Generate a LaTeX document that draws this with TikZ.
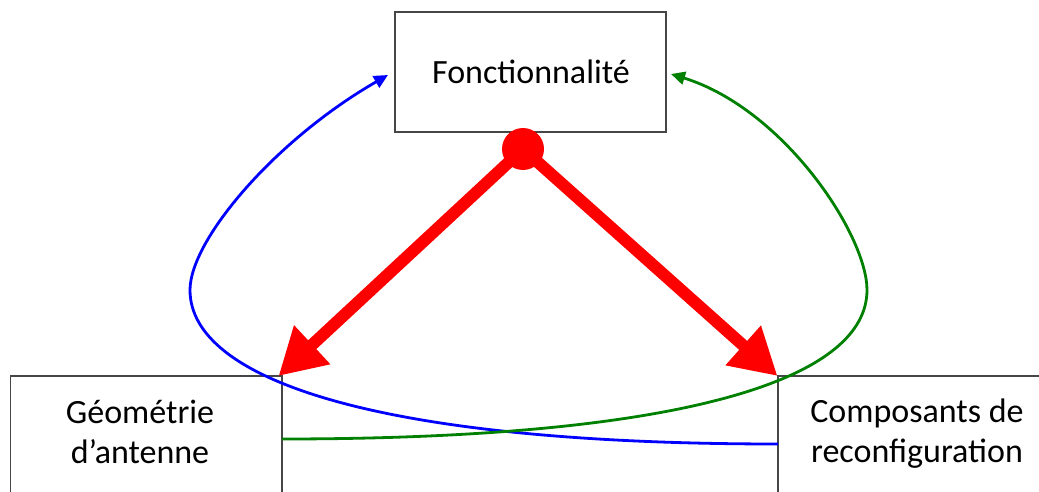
\documentclass[tikz,border=0pt]{standalone}
\usepackage{fontspec}
\setmainfont{Carlito}
\usetikzlibrary{arrows.meta}
\definecolor{boxgray}{RGB}{70,70,70}
\definecolor{dgreen}{RGB}{0,128,0}
\tikzset{
  boxstyle/.style={draw=boxgray,line width=1.5pt,fill=none,inner sep=0pt},
  lbl/.style={font=\fontsize{34}{40}\selectfont,align=center,inner sep=0pt},
  bigarrow/.style={draw=red,line width=12pt,-{Triangle[length=46pt,width=50pt]}},
  loopblue/.style={draw=blue,line width=2.8pt,-{Triangle[length=14pt,width=13pt]}},
  loopgreen/.style={draw=dgreen,line width=2.8pt,-{Triangle[length=14pt,width=13pt]}},
}
\begin{document}
\begin{tikzpicture}[x=1pt,y=-1pt]
\useasboundingbox (0,0) rectangle (1039,492);
\clip (0,0) rectangle (1039,492);
% boxes
\node[boxstyle,minimum width=271pt,minimum height=120pt] (top) at (530.5,72) {};
\node[boxstyle,minimum width=271.5pt,minimum height=160pt] (geo) at (146.25,456) {};
\node[boxstyle,minimum width=290pt,minimum height=160pt] (comp) at (923,456) {};
% labels
\node[lbl] (toptext) at (531,72) {Fonctionnalité};
\node[lbl,anchor=base] (geotext) at (140,463) {Géométrie\\d’antenne};
\node[lbl,anchor=base] (comptext) at (917,462) {Composants de\\reconfiguration};
% connector end points
\coordinate (bstart) at (778,444);
\coordinate (bleft) at (190,290);
\coordinate (btip) at (388,75);
\coordinate (gstart) at (282,439);
\coordinate (gright) at (867,290);
\coordinate (gtip) at (671,74);
% loops
\draw[loopblue] (bstart) .. controls (378,444) and (190,380) .. (bleft)
  .. controls (190,240) and (275,140) .. (btip);
\draw[loopgreen] (gstart) .. controls (682,439) and (867,380) .. (gright)
  .. controls (867,235) and (784,109) .. (gtip);
% red arrows
\coordinate (lefttip) at (278.5,376);
\coordinate (righttip) at (777.5,376);
\node[circle,fill=red,minimum size=42pt,inner sep=0pt] (dot) at (523,149) {};
\draw[bigarrow] (dot.center) -- (lefttip);
\draw[bigarrow] (dot.center) -- (righttip);
\end{tikzpicture}
\end{document}
